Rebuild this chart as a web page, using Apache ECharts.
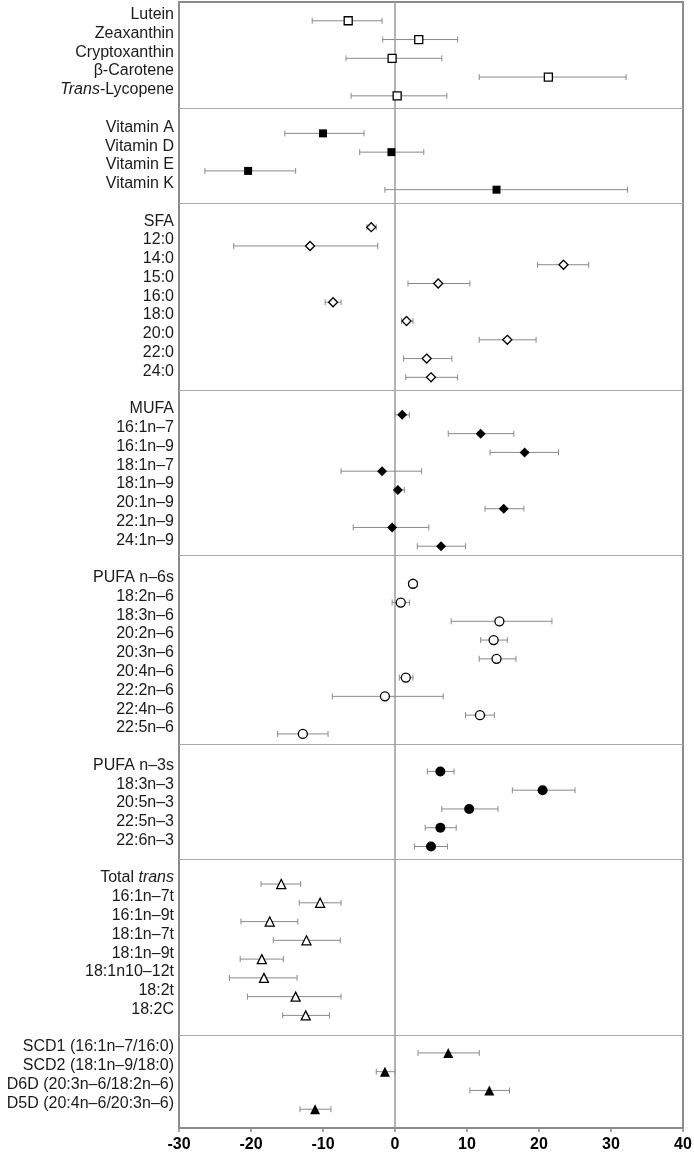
<!DOCTYPE html>
<html>
<head>
<meta charset="utf-8">
<script src="https://cdn.jsdelivr.net/npm/echarts@6/dist/echarts.min.js"></script>
<style>
html,body{margin:0;padding:0;background:#fff;}
#chart{width:694px;height:1154px;}
</style>
</head>
<body>
<div id="chart"></div>
<script>
// ---------- DATA ----------
const xTicks = [-30, -20, -10, 0, 10, 20, 30, 40];

const carotenoidLabels = ['Lutein', 'Zeaxanthin', 'Cryptoxanthin', 'β-Carotene', 'Trans-Lycopene'];
const carotenoidMean = [-6.5, 3.3, -0.4, 21.3, 0.3];
const carotenoidLo   = [-11.5, -1.7, -6.8, 11.7, -6.1];
const carotenoidHi   = [-1.8, 8.7, 6.5, 32.1, 7.2];

const vitaminLabels = ['Vitamin A', 'Vitamin D', 'Vitamin E', 'Vitamin K'];
const vitaminMean = [-10.0, -0.5, -20.4, 14.1];
const vitaminLo   = [-15.3, -4.9, -26.4, -1.4];
const vitaminHi   = [-4.3, 4.0, -13.8, 32.3];

const sfaLabels = ['SFA', '12:0', '14:0', '15:0', '16:0', '18:0', '20:0', '22:0', '24:0'];
const sfaMean = [-3.3, -11.8, 23.4, 6.0, -8.6, 1.6, 15.6, 4.4, 5.0];
const sfaLo   = [-3.9, -22.4, 19.8, 1.8, -9.7, 0.9, 11.7, 1.2, 1.5];
const sfaHi   = [-2.6, -2.4, 26.9, 10.4, -7.5, 2.5, 19.6, 7.9, 8.7];

const mufaLabels = ['MUFA', '16:1n–7', '16:1n–9', '18:1n–7', '18:1n–9', '20:1n–9', '22:1n–9', '24:1n–9'];
const mufaMean = [1.0, 11.9, 18.0, -1.8, 0.4, 15.1, -0.4, 6.4];
const mufaLo   = [0.0, 7.4, 13.2, -7.5, -0.1, 12.5, -5.8, 3.1];
const mufaHi   = [2.0, 16.5, 22.7, 3.7, 1.3, 17.9, 4.7, 9.8];

const n6Labels = ['PUFA n–6s', '18:2n–6', '18:3n–6', '20:2n–6', '20:3n–6', '20:4n–6', '22:2n–6', '22:4n–6', '22:5n–6'];
const n6Mean = [2.5, 0.8, 14.5, 13.7, 14.1, 1.5, -1.4, 11.8, -12.8];
const n6Lo   = [1.9, -0.4, 7.8, 11.9, 11.7, 0.6, -8.7, 9.8, -16.3];
const n6Hi   = [3.1, 2.0, 21.8, 15.6, 16.8, 2.5, 6.7, 13.8, -9.3];

const n3Labels = ['PUFA n–3s', '18:3n–3', '20:5n–3', '22:5n–3', '22:6n–3'];
const n3Mean = [6.3, 20.5, 10.3, 6.3, 5.0];
const n3Lo   = [4.5, 16.3, 6.5, 4.2, 2.7];
const n3Hi   = [8.2, 25.0, 14.3, 8.5, 7.3];

const transLabels = ['Total trans', '16:1n–7t', '16:1n–9t', '18:1n–7t', '18:1n–9t', '18:1n10–12t', '18:2t', '18:2C'];
const transMean = [-15.8, -10.4, -17.4, -12.3, -18.5, -18.2, -13.8, -12.4];
const transLo   = [-18.6, -13.3, -21.4, -16.9, -21.5, -23.0, -20.5, -15.6];
const transHi   = [-13.1, -7.5, -13.5, -7.6, -15.5, -13.6, -7.5, -9.1];

const indexLabels = ['SCD1 (16:1n–7/16:0)', 'SCD2 (18:1n–9/18:0)', 'D6D (20:3n–6/18:2n–6)', 'D5D (20:4n–6/20:3n–6)'];
const indexMean = [7.4, -1.4, 13.1, -11.1];
const indexLo   = [3.2, -2.6, 10.4, -13.2];
const indexHi   = [11.7, 0.0, 15.9, -8.9];

// group separator rows (between groups)
const separatorRows = [4.67, 9.71, 19.71, 28.46, 38.55, 44.67, 54.04];

// ---------- BUILD ----------
const groups = [
  {labels: carotenoidLabels, mean: carotenoidMean, lo: carotenoidLo, hi: carotenoidHi, symbol: 'rect', filled: false, size: 8},
  {labels: vitaminLabels, mean: vitaminMean, lo: vitaminLo, hi: vitaminHi, symbol: 'rect', filled: true, size: 8},
  {labels: sfaLabels, mean: sfaMean, lo: sfaLo, hi: sfaHi, symbol: 'diamond', filled: false, size: 9},
  {labels: mufaLabels, mean: mufaMean, lo: mufaLo, hi: mufaHi, symbol: 'diamond', filled: true, size: 10},
  {labels: n6Labels, mean: n6Mean, lo: n6Lo, hi: n6Hi, symbol: 'circle', filled: false, size: 9},
  {labels: n3Labels, mean: n3Mean, lo: n3Lo, hi: n3Hi, symbol: 'circle', filled: true, size: 10},
  {labels: transLabels, mean: transMean, lo: transLo, hi: transHi, symbol: 'triangle', filled: false, size: 9},
  {labels: indexLabels, mean: indexMean, lo: indexLo, hi: indexHi, symbol: 'triangle', filled: true, size: 10}
];

const rowLabel = {};
const errData = [];
const scatterSeries = [];
let row = 0;
groups.forEach((g) => {
  const pts = [];
  g.labels.forEach((lab, i) => {
    rowLabel[row] = lab;
    errData.push([g.lo[i], g.hi[i], row]);
    pts.push([g.mean[i], row]);
    row++;
  });
  row++; // blank row between groups
  scatterSeries.push({
    type: 'scatter',
    data: pts,
    symbol: g.symbol,
    symbolSize: g.size,
    z: 5,
    silent: true,
    itemStyle: {
      color: g.filled ? '#000' : '#fff',
      borderColor: '#000',
      borderWidth: g.filled ? 0 : 1.3,
      opacity: 1
    }
  });
});
const lastRow = row - 1; // blank row after last group

const FONT = '"Liberation Sans", Arial, Helvetica, sans-serif';

function fmtLabel(v) {
  const t = rowLabel[v];
  if (t === undefined) return '';
  if (t.startsWith('Trans-')) return '{i|Trans}{n|' + t.slice(5) + '}';
  if (t.endsWith(' trans')) return '{n|' + t.slice(0, -5) + '}{i|trans}';
  return '{n|' + t + '}';
}

function renderErr(params, api) {
  const y = api.value(2);
  const p1 = api.coord([api.value(0), y]);
  const p2 = api.coord([api.value(1), y]);
  const h = 3;
  const style = {stroke: '#8a8a8a', lineWidth: 1, fill: null};
  return {
    type: 'group',
    children: [
      {type: 'line', shape: {x1: p1[0], y1: p1[1], x2: p2[0], y2: p2[1]}, style: style},
      {type: 'line', shape: {x1: p1[0], y1: p1[1] - h, x2: p1[0], y2: p1[1] + h}, style: style},
      {type: 'line', shape: {x1: p2[0], y1: p2[1] - h, x2: p2[0], y2: p2[1] + h}, style: style}
    ]
  };
}

const chart = echarts.init(document.getElementById('chart'), null, {renderer: 'canvas'});
chart.setOption({
  animation: false,
  backgroundColor: '#fff',
  grid: {
    left: 179, right: 11, top: 2, bottom: 26,
    show: true, borderColor: '#8c8c8c', borderWidth: 2,
    outerBoundsMode: 'none'
  },
  xAxis: {
    type: 'value',
    min: xTicks[0], max: xTicks[xTicks.length - 1], interval: 10,
    axisLine: {show: true, onZero: false, lineStyle: {color: '#8c8c8c', width: 2}},
    axisTick: {show: true, length: 4, lineStyle: {color: '#8c8c8c', width: 1.5}},
    splitLine: {show: false},
    axisLabel: {
      color: '#000', fontWeight: 'bold', fontSize: 16, fontFamily: FONT, margin: 9,
      formatter: v => String(v)
    }
  },
  yAxis: {
    type: 'value',
    inverse: true,
    min: -1, max: lastRow, interval: 1,
    axisLine: {show: false},
    axisTick: {show: false},
    splitLine: {show: false},
    axisLabel: {
      margin: 5,
      align: 'right',
      verticalAlign: 'middle',
      padding: [0, 0, 12, 0],
      formatter: fmtLabel,
      color: '#1a1a1a', fontSize: 16, fontFamily: FONT,
      rich: {
        n: {color: '#1a1a1a', fontSize: 16, fontFamily: FONT},
        i: {color: '#1a1a1a', fontSize: 16, fontFamily: FONT, fontStyle: 'italic'}
      }
    }
  },
  series: [
    {
      type: 'custom',
      renderItem: renderErr,
      data: errData,
      encode: {x: [0, 1], y: 2},
      z: 3,
      silent: true,
      markLine: {
        silent: true,
        symbol: 'none',
        label: {show: false},
        animation: false,
        data: separatorRows.map(r => ({yAxis: r, lineStyle: {color: '#a8a8a8', width: 1, type: 'solid'}}))
          .concat([{xAxis: 0, lineStyle: {color: '#9a9a9a', width: 1.5, type: 'solid'}}])
      }
    }
  ].concat(scatterSeries)
});
</script>
</body>
</html>
